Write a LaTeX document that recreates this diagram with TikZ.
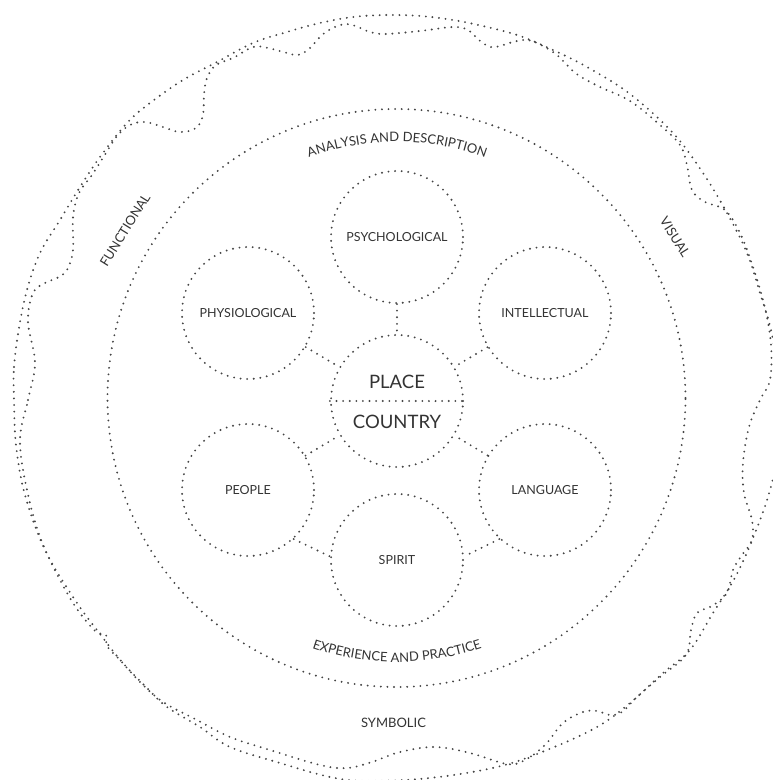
\documentclass[tikz,border=0pt]{standalone}
\usepackage{fontspec}
\setmainfont{Lato}
\usetikzlibrary{decorations.text}
\definecolor{dotc}{HTML}{454545}
\definecolor{txt}{HTML}{333333}
\begin{document}
\begin{tikzpicture}[x=1pt,y=1pt,
  dotline/.style={draw=dotc, line width=2.1pt, line cap=round, dash pattern=on 0pt off 6.6pt},
  circ/.style={circle, dotline, minimum size=132pt, inner sep=0pt, font=\fontsize{12.5}{12.5}\selectfont, text=txt},
  ringlbl/.style={font=\fontsize{13}{13}\selectfont, text=txt, inner sep=0pt},
  bigtxt/.style={font=\fontsize{18.5}{18.5}\selectfont, text=txt, inner sep=0pt}]
\useasboundingbox (-397,-382) rectangle (376,398);
\clip (-397,-382) rectangle (376,398);

% wavy outer band (image pixel coordinates)
\begin{scope}[shift={(-397,398)}, yscale=-1]
\draw[dotline] plot[smooth cycle, tension=0.6] coordinates {
(14,400) (14,367) (19,328) (27,290) (40,253) (60,220) (80,187) (100,157) (127,123) (150,103) (183,80) (217,62) (253,43) (287,32) (320,23) (353,17) (387,15) (420,16) (453,20) (487,27) (520,36) (553,50) (587,67) (630,94) (673,133) (703,173) (727,213) (747,253) (760,293) (771,330) (778,372) (781,420) (777,460) (768,497) (757,528) (745,557) (732,583) (713,613) (690,650) (663,673) (630,703) (597,727) (547,750) (497,767) (430,778) (367,781) (330,777) (280,763) (230,747) (200,727) (167,707) (147,688) (122,662) (100,634) (75,600) (45,550) (25,495) (16,445)};
\draw[dotline] plot[smooth cycle, tension=0.6] coordinates {
(20,440) (28,400) (35,363) (28,322) (33,293) (45,283) (57,278) (67,270) (73,250) (73,217) (79,193) (92,175) (106,153) (117,136) (130,125) (145,122) (163,127) (180,132) (196,128) (203,115) (204,95) (207,78) (216,65) (233,58) (253,47) (268,48) (287,53) (298,55) (309,49) (322,35) (335,27) (347,24) (358,27) (370,32) (385,34) (420,31) (453,27) (468,30) (479,40) (490,47) (500,46) (513,42) (528,40) (543,46) (557,55) (567,65) (578,75) (600,87) (630,101) (660,125) (680,145) (687,165) (692,190) (705,202) (725,210) (740,233) (753,267) (765,308) (771,345) (770,380) (760,400) (749,427) (743,463) (744,493) (752,520) (752,540) (742,555) (733,570) (727,593) (712,606) (697,613) (691,630) (686,655) (660,677) (637,697) (622,712) (610,715) (597,711) (583,712) (563,723) (545,745) (525,760) (507,764) (470,753) (435,747) (400,752) (372,762) (347,768) (320,765) (270,750) (230,737) (197,720) (163,702) (140,682) (120,660) (107,646) (106,635) (94,630) (70,598) (42,542) (27,490)};
\end{scope}

% ring labels
\node[ringlbl, rotate=58] (functional) at (-272,168) {FUNCTIONAL};
\node[ringlbl, rotate=-58] (visual) at (278,161) {VISUAL};
\node[ringlbl] (symbolic) at (-3.5,-324.5) {SYMBOLIC};

% big circle
\node[circle, dotline, minimum size=578pt, inner sep=0pt] (outerc) at (-0.5,0) {};
\path[decorate, decoration={text along path, text align=center, text color=txt,
  text={|\fontsize{13}{13}\selectfont|ANALYSIS AND DESCRIPTION}}]
  (160:256) arc[start angle=160, end angle=20, radius=256];
\path[decorate, decoration={text along path, text align=center, text color=txt,
  text={|\fontsize{13}{13}\selectfont|EXPERIENCE AND PRACTICE}}]
  (200:264) arc[start angle=200, end angle=340, radius=264];

% inner circles
\node[circ] (place) at (0,-3) {};
\node[circ] (psych) at (0,161) {PSYCHOLOGICAL};
\node[circ] (physio) at (-149,85) {PHYSIOLOGICAL};
\node[circ] (intel) at (148,85) {INTELLECTUAL};
\node[circ] (people) at (-149,-92) {PEOPLE};
\node[circ] (lang) at (148,-92) {LANGUAGE};
\node[circ] (spirit) at (0,-162) {SPIRIT};

\node[bigtxt] (placetxt) at (0,16) {PLACE};
\node[bigtxt] (countrytxt) at (0,-24) {COUNTRY};
\draw[dotline] (place.west) -- (place.east);

% connectors
\draw[dotline] (psych) -- (place);
\draw[dotline] (physio) -- (place);
\draw[dotline] (intel) -- (place);
\draw[dotline] (people) -- (place);
\draw[dotline] (lang) -- (place);
\draw[dotline] (people.-47) -- (spirit.177);
\draw[dotline] (lang.-133) -- (spirit.3);
\end{tikzpicture}
\end{document}
